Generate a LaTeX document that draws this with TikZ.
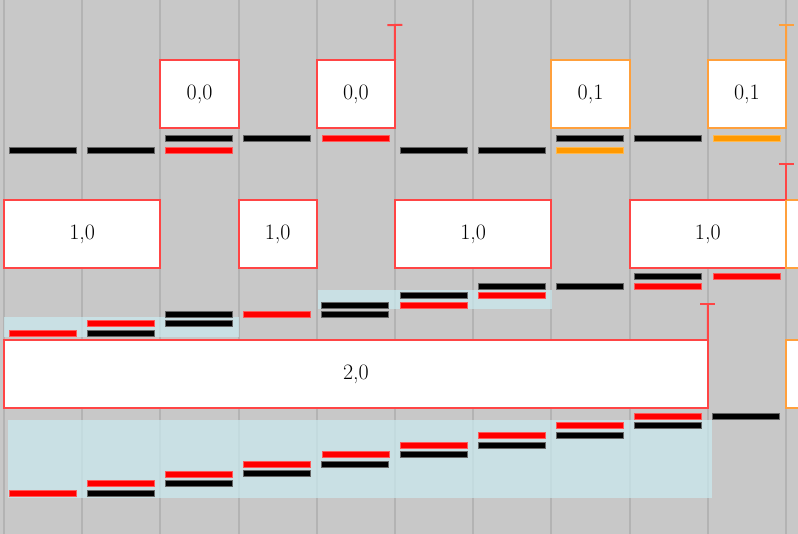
\documentclass[tikz,border=0pt]{standalone}
\usetikzlibrary{arrows.meta}
\definecolor{bg}{HTML}{C8C8C8}
\definecolor{gridc}{HTML}{B3B3B3}
\definecolor{boxred}{HTML}{FF4545}
\definecolor{boxorange}{HTML}{FFA03C}
\definecolor{barred}{HTML}{FF0000}
\definecolor{barorange}{HTML}{FF9900}
\definecolor{band}{HTML}{CAEAEF}
\newcommand\lvl[3]{\path[#3] ({4+78.2*(#1)+5},{#2}) rectangle ++(67,6);}
\begin{document}
\begin{tikzpicture}[x=1pt,y=-1pt,
  box/.style={draw=boxred, fill=white, line width=2pt, inner sep=0pt, outer sep=0pt,
    minimum height=68pt, anchor=north west, font=\fontsize{22}{26}\selectfont},
  obox/.style={box, draw=boxorange},
  gridline/.style={draw=gridc, line width=2pt},
  bandfill/.style={fill=band, fill opacity=0.72},
  tbar/.style={draw=boxred, line width=2pt, -{Bar[width=15pt]}},
  otbar/.style={tbar, draw=boxorange},
  blk/.style={fill=black, draw=black!60, line width=0.7pt},
  rd/.style={fill=barred, draw=red!65!white, line width=0.6pt},
  org/.style={fill=barorange, draw=barorange!70!white, line width=0.6pt}]
\useasboundingbox (0,0) rectangle (798,534);
\clip (0,0) rectangle (798,534);
\fill[bg] (0,0) rectangle (798,534);
% grid
\foreach \k in {0,...,10} \draw[gridline] ({4+78.2*\k},0) -- ({4+78.2*\k},534);
% highlight bands
\fill[bandfill] (4,317.5) rectangle (238.6,337);
\fill[bandfill] (318,290) rectangle (552,309);
\fill[bandfill] (8,420.5) rectangle (712,497.5);
% row 1 bars
\lvl{0}{147}{blk}
\lvl{1}{147}{blk}
\lvl{2}{135}{blk}
\lvl{2}{147}{rd}
\lvl{3}{135}{blk}
\lvl{4}{135}{rd}
\lvl{5}{147}{blk}
\lvl{6}{147}{blk}
\lvl{7}{135}{blk}
\lvl{7}{147}{org}
\lvl{8}{135}{blk}
\lvl{9}{135}{org}
% row 2 bars
\lvl{0}{330}{rd}
\lvl{1}{320.5}{rd}
\lvl{1}{330}{blk}
\lvl{2}{311}{blk}
\lvl{2}{320.5}{blk}
\lvl{3}{311}{rd}
\lvl{4}{302}{blk}
\lvl{4}{311}{blk}
\lvl{5}{292.5}{blk}
\lvl{5}{302}{rd}
\lvl{6}{283}{blk}
\lvl{6}{292.5}{rd}
\lvl{7}{283}{blk}
\lvl{8}{273.5}{blk}
\lvl{8}{283}{rd}
\lvl{9}{273.5}{rd}
% row 3 bars
\lvl{0}{490}{rd}
\foreach \k in {1,...,8} {
  \lvl{\k}{490-9.6*\k}{rd}
  \lvl{\k}{490-9.6*\k+9.6}{blk}
}
\lvl{9}{413.6}{blk}
% row 1 boxes
\node[box, minimum width=78.2pt] (a2) at (160.4,60) {0,0};
\node[box, minimum width=78.2pt] (a4) at (316.8,60) {0,0};
\node[obox, minimum width=78.2pt] (a7) at (551.4,60) {0,1};
\node[obox, minimum width=78.2pt] (a9) at (707.8,60) {0,1};
% row 2 boxes
\node[box, minimum width=156.4pt] (b0) at (4,200) {1,0};
\node[box, minimum width=78.2pt] (b3) at (238.6,200) {1,0};
\node[box, minimum width=156.4pt] (b5) at (395,200) {1,0};
\node[box, minimum width=156.4pt] (b8) at (629.6,200) {1,0};
\node[obox, minimum width=78.2pt] (b10) at (786,200) {};
% row 3 boxes
\node[box, minimum width=703.8pt] (c0) at (4,340) {2,0};
\node[obox, minimum width=78.2pt] (c10) at (786,340) {};
% T connectors
\coordinate (ta4) at (394.8,24);
\coordinate (ta9) at (786,24);
\coordinate (tb8) at (786,163);
\coordinate (tc0) at (707.8,303);
\draw[tbar] (a4.north east) -- (ta4);
\draw[otbar] (a9.north east) -- (ta9);
\draw[tbar] (b8.north east) -- (tb8);
\draw[tbar] (c0.north east) -- (tc0);
\end{tikzpicture}
\end{document}
